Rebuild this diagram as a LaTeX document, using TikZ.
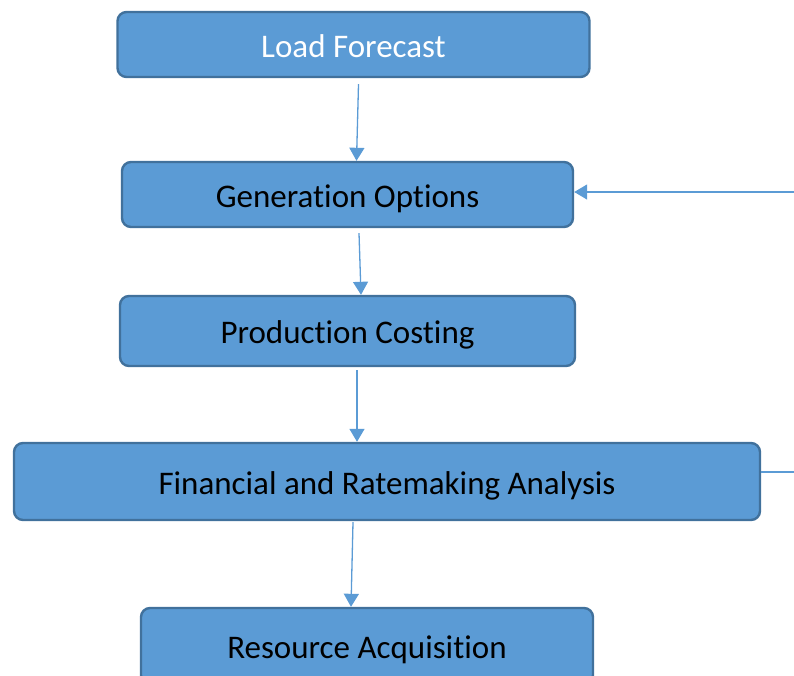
\documentclass[tikz,border=0pt]{standalone}
\usepackage{fontspec}
\setmainfont{Carlito}[Ligatures=CommonOff]
\usetikzlibrary{arrows.meta}
\definecolor{boxfill}{HTML}{5B9BD5}
\definecolor{boxline}{HTML}{41719C}
\definecolor{arr}{HTML}{5B9BD5}
\tikzset{
  procbox/.style={draw=boxline, fill=boxfill, line width=2.4pt, rounded corners=9pt,
    inner sep=0pt, font=\fontsize{33}{38}\selectfont, text=black,
    text height=30pt, text depth=5pt},
  flow/.style={draw=arr, line width=1.3pt, -{Triangle[length=13pt,width=15pt]}},
  flowplain/.style={draw=arr, line width=1.3pt}
}
\begin{document}
\begin{tikzpicture}[x=1pt,y=-1pt]
\useasboundingbox (0,0) rectangle (794,675);
\clip (0,0) rectangle (794,675);
\node[procbox, text=white, minimum width=472pt, minimum height=65pt] (lf) at (353.5,44.5) {Load Forecast};
\node[procbox, minimum width=451pt, minimum height=65pt] (go) at (347.5,194.5) {Generation Options};
\node[procbox, minimum width=455pt, minimum height=70pt] (pc) at (347.5,331) {Production Costing};
\node[procbox, minimum width=746pt, minimum height=77pt] (fa) at (387,481.5) {Financial and Ratemaking Analysis};
\node[procbox, minimum width=452pt, minimum height=76pt] (ra) at (367,646) {Resource Acquisition};
\coordinate (fbA) at (794,472);
\coordinate (fbB) at (794,192);
\draw[flow] ([xshift=5pt,yshift=-6pt]lf.south) -- ([xshift=9pt]go.north);
\draw[flow] ([xshift=11.5pt,yshift=-5pt]go.south) -- ([xshift=13.5pt]pc.north);
\draw[flow] ([xshift=9.5pt,yshift=-3pt]pc.south) -- ([xshift=9.5pt]pc.south |- fa.north);
\draw[flow] ([xshift=-34pt,yshift=-1pt]fa.south) -- ([xshift=-16pt]ra.north);
\draw[flowplain] ([yshift=9.5pt]fa.east) -- (fbA);
\draw[flow] (fbB) -- ([yshift=2.5pt]go.east);
\end{tikzpicture}
\end{document}
